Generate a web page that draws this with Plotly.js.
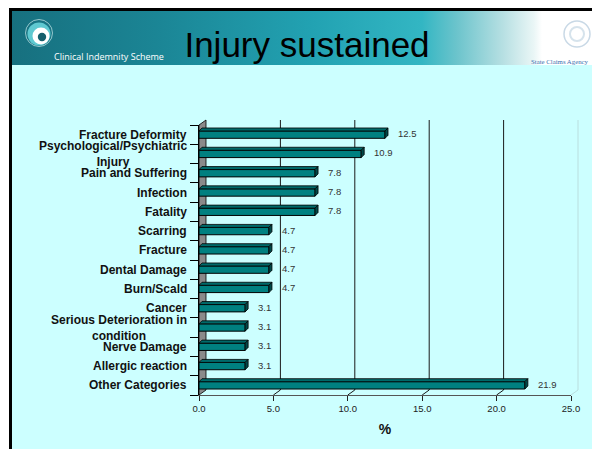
<!DOCTYPE html>
<html>
<head>
<meta charset="utf-8">
<script src="https://cdn.plot.ly/plotly-3.0.1.min.js"></script>
<style>
  html, body { margin:0; padding:0; background:#ffffff; }
  #wrap { position:relative; width:592px; height:449px; overflow:hidden; background:#ffffff; }
  .blk { position:absolute; }
  #chart { position:absolute; left:0; top:0; width:592px; height:449px; }
</style>
</head>
<body>
<div id="wrap">
  <div class="blk" style="left:9px;top:8px;width:583px;height:3px;background:#000;"></div>
  <div class="blk" style="left:9px;top:8px;width:3px;height:441px;background:#000;"></div>
  <div class="blk" style="left:12px;top:11px;width:580px;height:54px;background:linear-gradient(to right,#17707f 0px,#1b8696 150px,#22a2b2 300px,#33b6c3 410px,#6cc4cc 445px,#b5dfe2 490px,#eaf6f6 522px,#ffffff 530px);"></div>
  <div class="blk" style="left:12px;top:65px;width:580px;height:384px;background:#ccffff;"></div>
  <div id="chart"></div>
</div>
<script>
// ---- data ----
const categories = [
  'Fracture Deformity',
  'Psychological/Psychiatric<br>Injury',
  'Pain and Suffering',
  'Infection',
  'Fatality',
  'Scarring',
  'Fracture',
  'Dental Damage',
  'Burn/Scald',
  'Cancer',
  'Serious Deterioration in<br>condition',
  'Nerve Damage',
  'Allergic reaction',
  'Other Categories'
];
const values = [12.5, 10.9, 7.8, 7.8, 7.8, 4.7, 4.7, 4.7, 4.7, 3.1, 3.1, 3.1, 3.1, 21.9];
const xTicks = [0, 5, 10, 15, 20, 25];
const xTickLabels = ['0.0', '5.0', '10.0', '15.0', '20.0', '25.0'];
const chartTitle = 'Injury sustained';
const xTitle = '%';
const schemeName = 'Clinical Indemnity Scheme';
const agencyName = 'State Claims Agency';

// ---- layout geometry ----
const W = 592, H = 449;
const M = {l:199, r:21, t:125, b:54};
const plotW = W - M.l - M.r, plotH = H - M.t - M.b;
const xMax = 25;
const n = categories.length;
const idx = categories.map((_, i) => i);
const barW = 0.38;
const FONT = '"Liberation Sans", Arial, Helvetica, sans-serif';

// pixel <-> paper helpers for decoration
const pX = p => (p - M.l) / plotW;
const pY = p => (H - M.b - p) / plotH;

// 3D depths
const wallDX = 7 / plotW, wallDY = 5 / plotH;          // paper units
const barDX = 3 / plotW * xMax, barDY = 3 / plotH * n; // data units

const shapes = [];
// left wall
shapes.push({type:'path', xref:'paper', yref:'paper', layer:'below',
  path:`M0,0 L0,1 L${wallDX},${1+wallDY} L${wallDX},${wallDY} Z`,
  fillcolor:'#8a8a8a', line:{color:'#000', width:0.8}});
// back-wall gridlines and tick stubs
xTicks.forEach(v => {
  if (v === 0) return;
  const faint = v === xMax;
  const col = faint ? '#b9dede' : '#1a1a1a';
  shapes.push({type:'line', xref:'paper', yref:'paper', layer:'below',
    x0:v/xMax + wallDX, x1:v/xMax + wallDX, y0:wallDY, y1:1 + wallDY,
    line:{color:col, width:1}});
  shapes.push({type:'line', xref:'paper', yref:'paper', layer:'below',
    x0:v/xMax, x1:v/xMax + wallDX, y0:0, y1:wallDY,
    line:{color:col, width:1}});
});
// 3D faces of bars
values.forEach((v, i) => {
  const top = i - barW/2, bot = i + barW/2;
  shapes.push({type:'path', xref:'x', yref:'y', layer:'above',
    path:`M0,${top} L${v},${top} L${v+barDX},${top-barDY} L${barDX},${top-barDY} Z`,
    fillcolor:'#006a6a', line:{color:'#000', width:0.8}});
  shapes.push({type:'path', xref:'x', yref:'y', layer:'above',
    path:`M${v},${top} L${v},${bot} L${v+barDX},${bot-barDY} L${v+barDX},${top-barDY} Z`,
    fillcolor:'#004848', line:{color:'#000', width:0.8}});
});

// header logo (left)
function circ(cx, cy, r, fill, lineCol, lw) {
  return {type:'circle', xref:'paper', yref:'paper', layer:'above',
    x0:pX(cx - r), x1:pX(cx + r), y0:pY(cy + r), y1:pY(cy - r),
    fillcolor:fill, line:{color:lineCol, width:lw}};
}
shapes.push(circ(39, 33, 13.5, 'rgba(0,0,0,0)', 'rgba(220,245,245,0.8)', 0.8));
shapes.push(circ(39, 34, 11.5, '#5fc9d1', 'rgba(0,0,0,0)', 0));
shapes.push(circ(41, 36, 8.5, '#ffffff', 'rgba(0,0,0,0)', 0));
shapes.push(circ(42, 37, 4.2, '#155f6c', 'rgba(0,0,0,0)', 0));
// right emblem
shapes.push(circ(577, 34, 13, 'rgba(0,0,0,0)', '#c9d9e6', 1.5));
shapes.push(circ(577, 34, 7, 'rgba(0,0,0,0)', '#d6e3ec', 2));

const annotations = [];
categories.forEach((c, i) => {
  annotations.push({xref:'paper', yref:'y', x:0, y:i, xanchor:'right', yanchor:'middle',
    xshift:-11, text:'<b>' + c + '</b>', align:'center', showarrow:false, borderpad:0,
    font:{family:FONT, size:12, color:'#111'}});
});
values.forEach((v, i) => {
  annotations.push({xref:'x', yref:'y', x:v, y:i, xanchor:'left', yanchor:'middle',
    xshift:11, yshift:1, text:v.toFixed(1), showarrow:false,
    font:{family:FONT, size:9.5, color:'#333'}});
});
annotations.push({xref:'paper', yref:'paper', x:pX(52), y:pY(56), xanchor:'left', yanchor:'middle',
  text:schemeName, showarrow:false, font:{family:'"Open Sans", "Noto Sans", sans-serif', size:9, color:'#ffffff'}});
annotations.push({xref:'paper', yref:'paper', x:pX(530), y:pY(61), xanchor:'left', yanchor:'middle',
  text:agencyName, showarrow:false, borderpad:0, font:{family:'"Liberation Serif", "DejaVu Serif", serif', size:6.8, color:'#3a6fb0'}});

const traces = [{
  type:'bar', orientation:'h', x:values, y:idx, width:barW,
  marker:{color:'#008080', line:{color:'#000', width:1}},
  hoverinfo:'skip', showlegend:false
}];

const layout = {
  width:W, height:H, margin:M,
  paper_bgcolor:'rgba(0,0,0,0)', plot_bgcolor:'rgba(0,0,0,0)',
  showlegend:false,
  title:{text:chartTitle, font:{family:FONT, size:35, color:'#000'},
    x:307/W, xanchor:'center', xref:'container', y:1 - 45/H, yanchor:'middle', yref:'container'},
  xaxis:{range:[0, xMax], tickvals:xTicks, ticktext:xTickLabels, ticks:'outside', ticklen:5,
    tickcolor:'#222', tickwidth:1, showgrid:false, zeroline:false, showline:true,
    linecolor:'#555', linewidth:1, tickfont:{family:FONT, size:9.5, color:'#222'},
    title:{text:'<b>' + xTitle + '</b>', font:{family:FONT, size:14, color:'#111'}, standoff:10},
    fixedrange:true},
  yaxis:{range:[n - 0.5, -0.5], tickvals:idx.concat([n]).map(i => i - 0.5), showticklabels:false,
    ticks:'outside', ticklen:8, tickcolor:'#000', tickwidth:1, showgrid:false, zeroline:false,
    showline:true, linecolor:'#000', linewidth:1, fixedrange:true},
  shapes:shapes, annotations:annotations
};

Plotly.newPlot('chart', traces, layout, {displayModeBar:false, staticPlot:true});
</script>
</body>
</html>
